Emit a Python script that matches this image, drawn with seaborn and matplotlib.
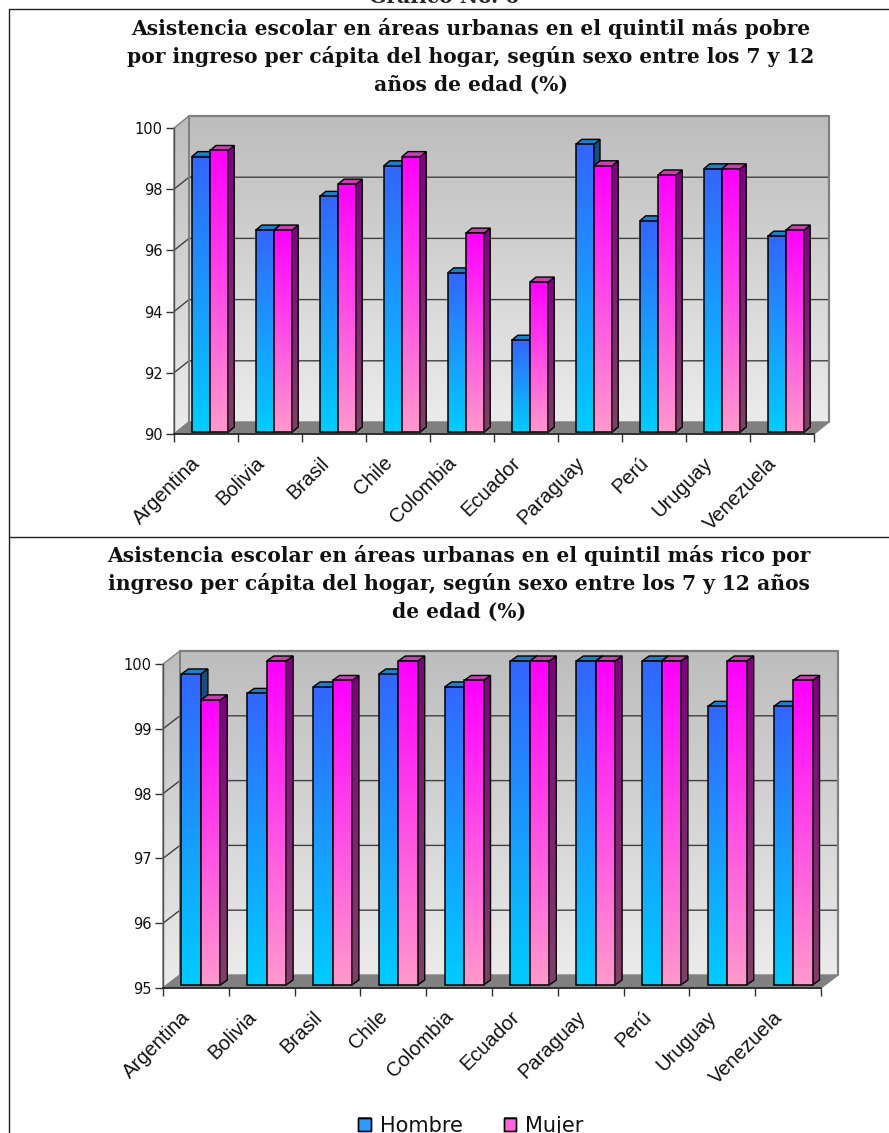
import numpy as np
import pandas as pd
import matplotlib
matplotlib.use('Agg')
import matplotlib.pyplot as plt
import seaborn as sns
from matplotlib.colors import LinearSegmentedColormap
from matplotlib.lines import Line2D
from matplotlib.patches import Polygon, Patch
from matplotlib.transforms import IdentityTransform, ScaledTranslation

paises = ['Argentina', 'Bolivia', 'Brasil', 'Chile', 'Colombia', 'Ecuador', 'Paraguay', 'Perú', 'Uruguay', 'Venezuela']

pobre_hombre = [99.0, 96.6, 97.7, 98.7, 95.2, 93.0, 99.4, 96.9, 98.6, 96.4]
pobre_mujer = [99.2, 96.6, 98.1, 99.0, 96.5, 94.9, 98.7, 98.4, 98.6, 96.6]
rico_hombre = [99.8, 99.5, 99.6, 99.8, 99.6, 100, 100, 100, 99.3, 99.3]
rico_mujer = [99.4, 100, 99.7, 100, 99.7, 100, 100, 100, 100, 99.7]

titulo_pobre = 'Asistencia escolar en áreas urbanas en el quintil más pobre\npor ingreso per cápita del hogar, según sexo entre los 7 y 12\naños de edad (%)'
titulo_rico = 'Asistencia escolar en áreas urbanas en el quintil más rico por\ningreso per cápita del hogar, según sexo entre los 7 y 12 años\nde edad (%)'

W, H = 889, 1133

sns.set_theme(style='white')
plt.rcParams['font.family'] = 'DejaVu Sans'

fig = plt.figure(figsize=(W / 100, H / 100), dpi=100)


def grad(ax, extent, top, bottom, z, clip=None, trans=None):
    cmap = LinearSegmentedColormap.from_list('g', [top, bottom])
    im = ax.imshow(np.linspace(0, 1, 128).reshape(-1, 1), cmap=cmap, extent=extent, aspect='auto',
                   origin='upper', zorder=z, interpolation='bilinear')
    im.set_clip_on(False)
    if trans is not None:
        im.set_transform(trans)
    if clip is not None:
        # imshow deja el recorte de los ejes, hay que quitarlo
        im.set_clip_on(True)
        im.set_clip_path(clip)
        im.set_clip_box(fig.bbox)
    return im


def panel(box, ticks, hombre, mujer, back, shift, depth, bar_w):
    left, right, top, bottom = box
    ymin, ymax = ticks[0], ticks[-1]
    ax = fig.add_axes([left / W, 1 - bottom / H, (right - left) / W, (bottom - top) / H])
    ax.patch.set_alpha(0)

    df = pd.DataFrame({'pais': paises, 'Hombre': hombre, 'Mujer': mujer}).melt('pais', var_name='sexo', value_name='valor')
    sns.barplot(data=df, x='pais', y='valor', hue='sexo', width=bar_w, gap=0, palette=['#3366ff', '#ff00ff'],
                legend=False, ax=ax, saturation=1)

    px = 10 / (right - left)
    py = (ymax - ymin) / (bottom - top)
    bx, by = back[0] * px, back[1] * py
    x0, x1 = -0.5, 9.5

    # paredes y piso
    grad(ax, (x0 + bx, x1 + bx, ymin + by, ymax + by), '#bdbdbd', '#ebebeb', 0.5)
    wall = Polygon([(x0, ymin), (x0 + bx, ymin + by), (x0 + bx, ymax + by), (x0, ymax)], fc='none', ec='#808080', lw=1,
                   clip_on=False, zorder=0.8)
    ax.add_patch(wall)
    grad(ax, (x0, x0 + bx, ymin, ymax + by), '#bdbdbd', '#ebebeb', 0.5, clip=wall)
    ax.add_patch(Polygon([(x0, ymin), (x1, ymin), (x1 + bx, ymin + by), (x0 + bx, ymin + by)], fc='#808080', ec='#808080',
                         clip_on=False, zorder=0.7))
    ax.plot([x0 + bx, x1 + bx, x1 + bx], [ymax + by, ymax + by, ymin + by], color='#808080', lw=1.6, clip_on=False, zorder=0.8)
    ax.plot([x0 + bx, x0 + bx], [ymin + by, ymax + by], color='#808080', lw=1.4, clip_on=False, zorder=0.8)
    for t in ticks[1:-1]:
        ax.plot([x0, x0 + bx, x1 + bx], [t, t + by, t + by], color='#404040', lw=1, clip_on=False, zorder=0.75)

    # caras de las barras
    sx, sy = shift[0] * px, shift[1] * py
    dx, dy = depth[0] * px, depth[1] * py
    estilos = [('#1a80c8', '#1a4d80', '#006080', '#3366ff', '#00ccff'), ('#c840b0', '#800080', '#804068', '#ff00ff', '#ff99cc')]
    for k, (cont, est) in enumerate(zip(ax.containers, estilos)):
        z = 2 + k
        for bar in cont:
            xa = bar.get_x() + sx
            w = bar.get_width()
            ya = ymin + sy
            yb = bar.get_height() + sy
            bar.set_x(xa)
            bar.set_y(ya)
            bar.set_height(yb - ya)
            bar.set_facecolor('none')
            bar.set_edgecolor('black')
            bar.set_linewidth(1.1)
            bar.set_clip_on(False)
            bar.set_zorder(z + 0.6)
            grad(ax, (xa, xa + w, ya, yb), est[3], est[4], z + 0.5)
            lado = Polygon([(xa + w, ya), (xa + w + dx, ya + dy), (xa + w + dx, yb + dy), (xa + w, yb)], fc='none', ec='black',
                           lw=1, clip_on=False, zorder=z + 0.2)
            ax.add_patch(lado)
            grad(ax, (xa + w, xa + w + dx, ya, yb + dy), est[1], est[2], z + 0.1, clip=lado)
            ax.add_patch(Polygon([(xa, yb), (xa + dx, yb + dy), (xa + w + dx, yb + dy), (xa + w, yb)], fc=est[0], ec='black', lw=1,
                                 clip_on=False, zorder=z + 0.3))

    ax.set_xlim(x0, x1)
    ax.set_ylim(ymin, ymax)
    ax.set_yticks(ticks)
    ax.set_xticks(np.arange(-0.5, 10, 1))
    ax.set_xticklabels([])
    ax.set_xticks(range(10), labels=paises, minor=True)
    ax.tick_params(axis='both', which='major', length=6, width=1, color='#303030', left=True, bottom=True, pad=2)
    ax.tick_params(axis='x', which='minor', length=0, bottom=False, pad=14)
    ax.tick_params(axis='y', labelsize=10.5, labelcolor='#111111')
    corrida = ScaledTranslation(-15 / 100, 0, fig.dpi_scale_trans)
    for lab in ax.get_xticklabels(minor=True):
        lab.set(rotation=45, ha='right', rotation_mode='anchor', family='Liberation Sans', fontsize=14.5, color='#111111')
        lab.set_transform(lab.get_transform() + corrida)
    ax.set_xlabel('')
    ax.set_ylabel('')
    sns.despine(ax=ax, top=True, right=True)
    ax.spines['left'].set(color='#505050', linewidth=1)
    ax.spines['bottom'].set(color='#202020', linewidth=1.2)
    return ax


ax1 = panel((174, 814, 128, 434), [90, 92, 94, 96, 98, 100], pobre_hombre, pobre_mujer, (15, 12), (4, 2), (6, 5), 0.57)
ax2 = panel((163, 821, 664, 988), [95, 96, 97, 98, 99, 100], rico_hombre, rico_mujer, (17, 13), (5, 3), (7, 5), 0.59)

fuente_titulo = dict(family='DejaVu Serif', fontweight='bold', fontsize=14.6, ha='center', va='center', linespacing=1.45, color='#111111')
fig.text(471 / W, 1 - 56 / H, titulo_pobre, **fuente_titulo)
fig.text(459 / W, 1 - 583 / H, titulo_rico, **fuente_titulo)
fig.text(444 / W, 1 - 3 / H, 'Gráfico No. 6', family='DejaVu Serif', fontweight='bold', fontsize=14.6, ha='center', va='baseline')

# marco de la tabla, sin borde derecho
for xs, ys in [((9, W), (9, 9)), ((9, 9), (9, H)), ((9, W), (537, 537))]:
    fig.add_artist(Line2D([x / W for x in xs], [1 - y / H for y in ys], color='#222222', lw=1))

# leyenda
leg = fig.legend(handles=[Patch(fc='#2f9bff', ec='black', label='Hombre'), Patch(fc='#ff66dd', ec='black', label='Mujer')],
                 loc='lower center', bbox_to_anchor=(471 / W, -0.019), ncol=2, frameon=False, fontsize=15, handlelength=0.62,
                 handleheight=0.62, handletextpad=0.42, columnspacing=1.95, labelcolor='#111111')
fig.canvas.draw()
rend = fig.canvas.get_renderer()
for h, c in zip(leg.legend_handles, [('#3366ff', '#00ccff'), ('#ff00ff', '#ff99cc')]):
    bb = h.get_window_extent(rend)
    grad(ax2, (bb.x0, bb.x1, bb.y0, bb.y1), c[0], c[1], 10, trans=IdentityTransform())
    fig.add_artist(Line2D([bb.x0 / W, bb.x1 / W, bb.x1 / W, bb.x0 / W, bb.x0 / W],
                          [bb.y0 / H, bb.y0 / H, bb.y1 / H, bb.y1 / H, bb.y0 / H], color='black', lw=1, zorder=12))
ax2.set_xlim(-0.5, 9.5)
ax2.set_ylim(95, 100)

fig.savefig('out.png', dpi=100)
